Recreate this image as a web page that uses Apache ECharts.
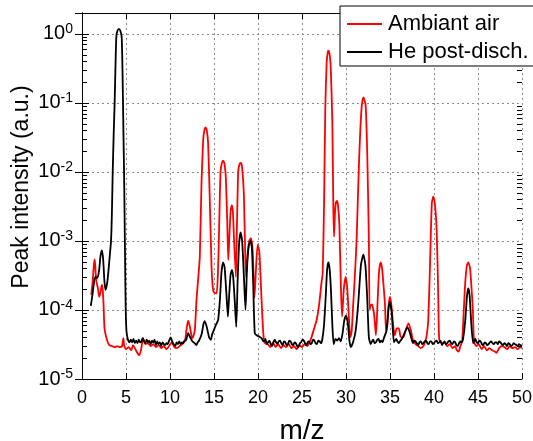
<!DOCTYPE html>
<html>
<head>
<meta charset="utf-8">
<script src="https://cdn.jsdelivr.net/npm/echarts@6/dist/echarts.min.js"></script>
<style>html,body{margin:0;padding:0;background:#fff}#c{width:533px;height:441px}</style>
</head>
<body>
<div id="c"></div>
<script>
// ---- data (m/z, peak intensity a.u.) ----
const seriesNames = ['Ambiant air', 'He post-disch.'];
const xTicks = [0, 5, 10, 15, 20, 25, 30, 35, 40, 45, 50];
const yDecades = [1e-5, 1e-4, 1e-3, 1e-2, 1e-1, 1e0];
const yMinorTicks = [2e-5,3e-5,4e-5,5e-5,6e-5,7e-5,8e-5,9e-5,
  2e-4,3e-4,4e-4,5e-4,6e-4,7e-4,8e-4,9e-4,
  2e-3,3e-3,4e-3,5e-3,6e-3,7e-3,8e-3,9e-3,
  2e-2,3e-2,4e-2,5e-2,6e-2,7e-2,8e-2,9e-2,
  0.2,0.3,0.4,0.5,0.6,0.7,0.8,0.9];

const airData = [
[1.05,1.65e-4],[1.2,2.5e-4],[1.35,4.5e-4],[1.45,5.4e-4],[1.55,3.5e-4],[1.65,2.5e-4],[1.8,2.1e-4],[1.95,1.55e-4],
[2.1,1.8e-4],[2.25,2.3e-4],[2.35,2.0e-4],[2.45,1.2e-4],[2.55,5.5e-5],[2.7,4.3e-5],[2.9,3.5e-5],[3.1,3.1e-5],
[3.4,3.0e-5],[3.7,2.9e-5],[4.0,3.0e-5],[4.3,2.9e-5],[4.55,3.0e-5],[4.7,3.9e-5],[4.8,3.0e-5],[5.0,2.7e-5],
[5.3,2.9e-5],[5.6,2.6e-5],[5.8,3.1e-5],[6.0,2.8e-5],[6.2,2.5e-5],[6.5,2.2e-5],[6.7,2.6e-5],[6.95,3.9e-5],
[7.2,3.2e-5],[7.5,3.3e-5],[7.8,3.0e-5],[8.1,3.2e-5],[8.4,2.9e-5],[8.7,3.1e-5],[9.0,2.8e-5],[9.3,3.0e-5],
[9.6,2.7e-5],[9.9,3.0e-5],[10.2,3.4e-5],[10.5,2.9e-5],[10.8,2.8e-5],[11.1,3.0e-5],[11.4,3.2e-5],[11.7,3.6e-5],
[11.9,5.5e-5],[12.06,7.0e-5],[12.25,5.8e-5],[12.45,4.2e-5],[12.56,3.9e-5],[12.82,5.1e-5],[13.01,1.4e-4],
[13.2,2.8e-4],[13.39,6.0e-4],[13.58,6.9e-3],[13.77,2.9e-2],[13.9,4.0e-2],[14.04,4.4e-2],[14.18,4.0e-2],
[14.33,2.6e-2],[14.5,5.0e-3],[14.72,4.2e-4],[14.85,2.2e-4],[14.98,1.8e-4],[15.29,1.74e-4],[15.45,3.5e-4],
[15.57,1.3e-3],[15.74,1.0e-2],[15.9,1.35e-2],[16.04,1.45e-2],[16.2,1.3e-2],[16.35,8.0e-3],[16.5,2.0e-3],
[16.62,5.3e-4],[16.75,1.2e-3],[16.9,2.8e-3],[17.03,3.3e-3],[17.15,2.6e-3],[17.3,9.0e-4],[17.49,3.0e-4],
[17.6,1.5e-3],[17.75,1.0e-2],[17.9,1.3e-2],[18.05,1.35e-2],[18.2,1.15e-2],[18.4,4.5e-3],[18.55,6.0e-4],
[18.65,3.0e-4],[18.8,6.0e-4],[19.0,1.0e-3],[19.2,1.1e-3],[19.4,7.0e-4],[19.6,1.5e-4],[19.75,3.5e-4],
[19.96,8.8e-4],[20.15,7.0e-4],[20.35,2.0e-4],[20.6,4.6e-5],[20.8,3.3e-5],[21.1,3.2e-5],[21.4,2.9e-5],
[21.7,3.4e-5],[22.0,2.9e-5],[22.3,3.2e-5],[22.6,2.8e-5],[22.9,3.1e-5],[23.2,2.9e-5],[23.5,3.2e-5],
[23.8,2.8e-5],[24.1,3.0e-5],[24.4,2.7e-5],[24.7,3.1e-5],[25.0,2.9e-5],[25.3,3.2e-5],[25.6,3.0e-5],
[25.85,3.4e-5],[26.1,4.1e-5],[26.4,5.5e-5],[26.67,7.2e-5],[26.95,1.2e-4],[27.2,2.4e-4],[27.35,3.4e-4],
[27.5,3.1e-3],[27.65,8.9e-2],[27.8,0.38],[27.92,0.54],[28.0,0.57],[28.12,0.52],[28.26,0.34],[28.45,5.0e-2],
[28.56,3.1e-3],[28.64,1.15e-3],[28.75,2.6e-3],[28.85,3.6e-3],[28.98,3.8e-3],[29.1,3.2e-3],[29.24,1.8e-3],
[29.43,1.95e-4],[29.55,8.0e-5],[29.75,2.0e-4],[29.96,3.0e-4],[30.15,2.0e-4],[30.35,7.0e-5],[30.5,4.0e-5],
[30.65,5.0e-5],[30.8,1.1e-4],[31.0,3.0e-4],[31.2,1.0e-3],[31.5,1.66e-2],[31.78,8.9e-2],[31.97,1.2e-1],
[32.1,1.1e-1],[32.24,8.9e-2],[32.42,1.66e-2],[32.6,1.0e-3],[32.68,1.0e-4],[32.8,1.15e-4],[32.95,1.2e-4],
[33.2,8.5e-5],[33.4,4.3e-5],[33.55,1.0e-4],[33.75,3.5e-4],[33.94,4.9e-4],[34.1,4.0e-4],[34.3,2.0e-4],
[34.43,1.2e-4],[34.55,5.0e-5],[34.7,6.0e-5],[34.85,1.2e-4],[35.0,1.55e-4],[35.15,1.2e-4],[35.38,5.7e-5],
[35.55,4.3e-5],[35.76,5.4e-5],[36.0,5.4e-5],[36.2,4.1e-5],[36.5,4.0e-5],[36.8,5.2e-5],[37.1,6.4e-5],
[37.35,5.2e-5],[37.6,3.7e-5],[37.9,3.2e-5],[38.2,3.0e-5],[38.5,2.8e-5],[38.8,3.0e-5],[39.0,3.5e-5],
[39.17,4.3e-5],[39.35,7.2e-5],[39.55,4.7e-4],[39.75,3.5e-3],[39.92,4.4e-3],[40.1,3.5e-3],[40.3,1.45e-3],
[40.45,2.5e-4],[40.5,1.1e-4],[40.6,3.7e-5],[40.9,3.3e-5],[41.2,3.4e-5],[41.5,3.0e-5],[41.8,3.2e-5],
[42.1,2.8e-5],[42.4,3.0e-5],[42.6,2.6e-5],[42.8,2.5e-5],[43.0,3.0e-5],[43.2,3.5e-5],[43.35,8.0e-5],
[43.55,2.5e-4],[43.75,4.5e-4],[43.9,4.9e-4],[44.1,4.0e-4],[44.25,2.2e-4],[44.4,1.1e-4],[44.55,3.5e-5],
[44.8,3.0e-5],[45.1,3.2e-5],[45.4,2.7e-5],[45.7,3.0e-5],[46.0,2.6e-5],[46.3,2.8e-5],[46.6,2.6e-5],
[46.9,2.5e-5],[47.1,2.4e-5],[47.4,2.8e-5],[47.7,3.0e-5],[48.0,2.9e-5],[48.3,2.7e-5],[48.6,3.0e-5],
[48.9,2.8e-5],[49.2,2.9e-5],[49.5,2.7e-5],[49.8,2.9e-5],[50.0,2.8e-5]
];

const heData = [
[1.0,1.15e-4],[1.2,1.7e-4],[1.4,2.7e-4],[1.55,3.0e-4],[1.75,2.9e-4],[1.95,3.8e-4],[2.1,6.0e-4],[2.25,7.3e-4],
[2.4,5.5e-4],[2.55,2.6e-4],[2.68,1.95e-4],[2.85,2.4e-4],[3.0,3.6e-4],[3.15,6.0e-4],[3.3,1.0e-3],[3.4,2.6e-3],
[3.49,1.0e-2],[3.6,3.5e-2],[3.71,1.0e-1],[3.8,3.2e-1],[3.9,0.9],[4.02,1.1],[4.2,1.18],[4.36,1.1],[4.51,0.9],
[4.6,0.3],[4.66,0.1],[4.72,3.0e-2],[4.78,1.0e-2],[4.83,3.0e-3],[4.87,1.0e-3],[4.92,3.0e-4],[4.97,1.0e-4],
[5.05,5.0e-5],[5.2,3.8e-5],[5.4,3.4e-5],[5.55,3.7e-5],[5.7,3.4e-5],[5.85,3.8e-5],[6.0,3.3e-5],[6.15,3.6e-5],
[6.3,3.3e-5],[6.45,3.7e-5],[6.6,3.4e-5],[6.75,3.5e-5],[6.9,3.9e-5],[7.05,3.5e-5],[7.2,3.3e-5],[7.35,3.7e-5],
[7.5,3.4e-5],[7.65,3.6e-5],[7.8,3.2e-5],[7.95,3.6e-5],[8.1,3.4e-5],[8.25,3.7e-5],[8.4,3.1e-5],[8.55,3.5e-5],
[8.7,3.2e-5],[8.85,3.4e-5],[9.0,3.0e-5],[9.15,3.4e-5],[9.3,3.2e-5],[9.45,3.1e-5],[9.6,3.3e-5],[9.75,3.2e-5],
[9.9,3.6e-5],[10.08,4.0e-5],[10.25,3.5e-5],[10.4,3.2e-5],[10.6,3.0e-5],[10.75,3.4e-5],[10.9,3.2e-5],
[11.05,3.5e-5],[11.2,3.2e-5],[11.35,3.4e-5],[11.5,3.3e-5],[11.65,3.6e-5],[11.8,3.6e-5],[12.06,4.6e-5],
[12.3,4.0e-5],[12.55,3.5e-5],[12.8,3.3e-5],[13.0,3.1e-5],[13.15,3.4e-5],[13.3,3.6e-5],
[13.6,4.5e-5],[13.8,6.2e-5],[13.96,6.9e-5],[14.2,5.5e-5],[14.45,4.0e-5],[14.64,3.7e-5],[14.8,4.5e-5],
[14.98,5.1e-5],[15.2,6.0e-5],[15.47,7.2e-5],[15.67,1.4e-4],[15.85,3.5e-4],[16.03,4.9e-4],[16.2,4.2e-4],
[16.4,1.8e-4],[16.58,8.0e-5],[16.72,1.6e-4],[16.88,3.2e-4],[17.04,3.8e-4],[17.18,3.0e-4],[17.35,1.4e-4],
[17.53,5.7e-5],[17.68,2.5e-4],[17.85,9.0e-4],[18.02,1.33e-3],[18.2,1.0e-3],[18.4,3.0e-4],[18.58,1.0e-4],
[18.75,4.0e-4],[18.95,8.5e-4],[19.15,1.0e-3],[19.3,8.0e-4],[19.45,2.5e-4],[19.63,4.6e-5],[19.85,4.3e-5],
[20.15,4.1e-5],[20.4,3.9e-5],[20.55,3.6e-5],[20.7,3.5e-5],[20.85,3.8e-5],[21.0,3.2e-5],[21.15,3.4e-5],
[21.3,3.6e-5],[21.45,3.2e-5],[21.6,3.0e-5],[21.75,3.4e-5],[21.9,3.7e-5],[22.05,3.4e-5],[22.2,3.2e-5],
[22.35,3.5e-5],[22.5,3.6e-5],[22.65,3.3e-5],[22.8,3.1e-5],[22.95,3.5e-5],[23.1,3.4e-5],[23.25,3.1e-5],
[23.4,3.2e-5],[23.55,3.6e-5],[23.7,3.5e-5],[23.85,3.2e-5],[24.0,3.1e-5],[24.15,3.4e-5],[24.3,3.3e-5],
[24.45,3.0e-5],[24.6,2.9e-5],[24.75,3.3e-5],[24.9,3.4e-5],[25.05,3.7e-5],[25.2,3.6e-5],[25.35,3.3e-5],
[25.5,3.1e-5],[25.65,3.4e-5],[25.8,3.5e-5],[25.95,3.2e-5],[26.1,3.3e-5],[26.25,3.7e-5],[26.4,3.6e-5],
[26.55,3.3e-5],[26.7,3.2e-5],[26.85,3.6e-5],[27.0,3.5e-5],[27.15,3.3e-5],[27.3,3.7e-5],[27.5,6.0e-5],
[27.7,1.6e-4],[27.85,3.8e-4],[28.0,4.9e-4],[28.15,3.8e-4],[28.3,1.8e-4],[28.45,6.0e-5],[28.6,3.2e-5],
[28.8,3.8e-5],[29.0,3.6e-5],[29.2,3.9e-5],[29.4,3.5e-5],[29.6,4.5e-5],[29.8,7.0e-5],[30.0,8.3e-5],
[30.2,6.5e-5],[30.4,3.5e-5],[30.55,2.9e-5],[30.8,3.4e-5],[31.1,5.0e-5],[31.4,1.3e-4],[31.7,4.5e-4],
[31.97,6.3e-4],[32.2,4.5e-4],[32.4,1.6e-4],[32.6,4.0e-5],[32.8,3.2e-5],[32.95,3.5e-5],[33.1,3.7e-5],
[33.25,3.3e-5],[33.4,3.4e-5],[33.55,3.7e-5],[33.7,3.8e-5],[33.85,3.4e-5],[34.0,3.6e-5],[34.15,3.4e-5],
[34.3,3.9e-5],[34.6,5.0e-5],[34.85,1.1e-4],[35.0,1.3e-4],[35.2,9.0e-5],[35.45,3.4e-5],[35.7,3.8e-5],
[35.85,3.5e-5],[36.0,3.3e-5],[36.2,3.6e-5],[36.4,3.9e-5],[36.7,4.8e-5],[37.0,5.6e-5],[37.3,4.5e-5],
[37.6,3.3e-5],[37.75,3.6e-5],[37.9,3.5e-5],[38.05,3.3e-5],[38.2,3.1e-5],[38.35,3.4e-5],[38.5,3.5e-5],
[38.65,3.2e-5],[38.8,3.3e-5],[38.95,3.5e-5],[39.1,3.6e-5],[39.25,3.3e-5],[39.4,3.2e-5],[39.55,3.5e-5],
[39.7,3.5e-5],[39.85,3.2e-5],[40.0,3.3e-5],[40.15,3.5e-5],[40.3,3.6e-5],[40.45,3.3e-5],[40.6,3.4e-5],
[40.75,3.6e-5],[40.9,3.1e-5],[41.05,3.3e-5],[41.2,3.5e-5],[41.35,3.2e-5],[41.5,3.3e-5],[41.65,3.5e-5],
[41.8,3.6e-5],[41.95,3.3e-5],[42.1,3.2e-5],[42.25,3.5e-5],[42.4,3.4e-5],[42.55,3.1e-5],[42.7,3.0e-5],
[42.85,3.3e-5],[43.0,3.5e-5],[43.15,3.4e-5],[43.3,3.8e-5],[43.55,7.0e-5],[43.75,1.6e-4],[43.9,2.06e-4],
[44.05,1.6e-4],[44.25,6.0e-5],[44.45,3.3e-5],[44.6,3.6e-5],[44.7,3.8e-5],[44.85,3.4e-5],[45.0,3.3e-5],
[45.15,3.6e-5],[45.3,3.5e-5],[45.45,3.2e-5],[45.6,3.1e-5],[45.75,3.4e-5],[45.9,3.3e-5],[46.05,3.1e-5],
[46.2,3.2e-5],[46.35,3.4e-5],[46.5,3.5e-5],[46.65,3.3e-5],[46.8,3.2e-5],[46.95,3.4e-5],[47.1,3.4e-5],
[47.25,3.2e-5],[47.4,3.5e-5],[47.55,3.4e-5],[47.7,3.2e-5],[47.85,3.1e-5],[48.0,3.3e-5],[48.15,3.2e-5],
[48.3,3.0e-5],[48.45,3.3e-5],[48.6,3.2e-5],[48.75,3.0e-5],[48.9,3.1e-5],[49.05,3.3e-5],[49.2,3.2e-5],
[49.35,3.1e-5],[49.5,3.0e-5],[49.65,3.2e-5],[49.8,3.1e-5],[50.0,3.0e-5]
];

// ---- chart ----
const FONT = '"Liberation Sans", Arial, Helvetica, sans-serif';
const X0 = xTicks[0], X1 = xTicks[xTicks.length - 1];
const chart = echarts.init(document.getElementById('c'), null, {renderer: 'canvas'});
const gridLine = {show: true, lineStyle: {color: '#8c8c8c', width: 1, type: [2, 3]}};
const axLine = {show: true, lineStyle: {color: '#000', width: 1}};

function yLabel(v) {
  const l = Math.log10(v);
  const e = Math.round(l);
  if (Math.abs(l - e) > 1e-6) return '';
  return '{b|10}{s|' + e + '}';
}

chart.setOption({
  animation: false,
  backgroundColor: '#fff',
  grid: {left: 82, right: 11, top: 13, bottom: 62, containLabel: false, outerBoundsMode: 'none'},
  legend: {
    data: seriesNames,
    orient: 'vertical',
    left: 340, top: 6,
    backgroundColor: '#fff',
    borderColor: '#000', borderWidth: 1, borderRadius: 0,
    padding: [7, 16, 3, 7],
    icon: 'rect',
    itemWidth: 35, itemHeight: 2, itemGap: 6,
    textStyle: {fontSize: 22, fontFamily: FONT, color: '#000', padding: [0, 0, 0, 1]},
    z: 20
  },
  graphic: [{
    type: 'text', x: 22, y: 187, rotation: Math.PI / 2,
    style: {text: 'Peak intensity (a.u.)', font: '23px ' + FONT, fill: '#000', textAlign: 'center', textVerticalAlign: 'middle'}
  }],
  xAxis: [{
    type: 'value', min: X0, max: X1, interval: 5, position: 'bottom',
    axisLine: axLine,
    axisTick: {show: true, inside: true, length: 6, lineStyle: {color: '#000'}},
    axisLabel: {fontSize: 18, fontFamily: FONT, color: '#000', margin: 10},
    splitLine: gridLine,
    name: 'm/z', nameLocation: 'middle', nameGap: 38,
    nameTextStyle: {fontSize: 28, fontFamily: FONT, color: '#000'}
  }, {
    type: 'value', min: X0, max: X1, interval: 5, position: 'top',
    axisLine: axLine,
    axisTick: {show: true, inside: true, length: 6, lineStyle: {color: '#000'}},
    axisLabel: {show: false}, splitLine: {show: false}
  }],
  yAxis: [{
    type: 'log', logBase: 10, min: yDecades[0], max: 2, position: 'left',
    axisLine: axLine,
    axisTick: {show: true, inside: true, length: 7, lineStyle: {color: '#000'}},
    axisLabel: {
      formatter: yLabel, margin: 9, showMaxLabel: false,
      rich: {
        b: {fontSize: 20, fontFamily: FONT, color: '#000', lineHeight: 24},
        s: {fontSize: 14, fontFamily: FONT, color: '#000', lineHeight: 12, verticalAlign: 'top'}
      }
    },
    splitLine: gridLine
  }, {
    type: 'log', logBase: 10, min: yDecades[0], max: 2, position: 'right',
    axisLine: axLine,
    axisTick: {show: true, inside: true, length: 7, lineStyle: {color: '#000'}},
    axisLabel: {show: false}, splitLine: {show: false}
  }],
  series: [{
    name: seriesNames[0], type: 'line', data: airData, symbol: 'none', showSymbol: false, smooth: 0.2,
    lineStyle: {color: '#ff0000', width: 1.8}, itemStyle: {color: '#ff0000'}, z: 3
  }, {
    name: seriesNames[1], type: 'line', data: heData, symbol: 'none', showSymbol: false, smooth: 0.2,
    lineStyle: {color: '#000000', width: 1.8}, itemStyle: {color: '#000000'}, z: 4
  }, {
    type: 'custom', silent: true, z: 10, clip: false,
    xAxisIndex: 0, yAxisIndex: 0,
    data: yMinorTicks.map(v => [X1, v]),
    encode: {x: 0, y: 1},
    renderItem: function (params, api) {
      const cs = params.coordSys;
      const p = api.coord([X1, api.value(1)]);
      const y = Math.round(p[1]);
      const xl = Math.round(cs.x);
      const xr = Math.round(cs.x + cs.width);
      return {type: 'group', children: [
        {type: 'rect', shape: {x: xl, y: y, width: 5, height: 1}, style: {fill: '#000'}},
        {type: 'rect', shape: {x: xr - 5, y: y, width: 5, height: 1}, style: {fill: '#000'}}
      ]};
    }
  }]
});
</script>
</body>
</html>
